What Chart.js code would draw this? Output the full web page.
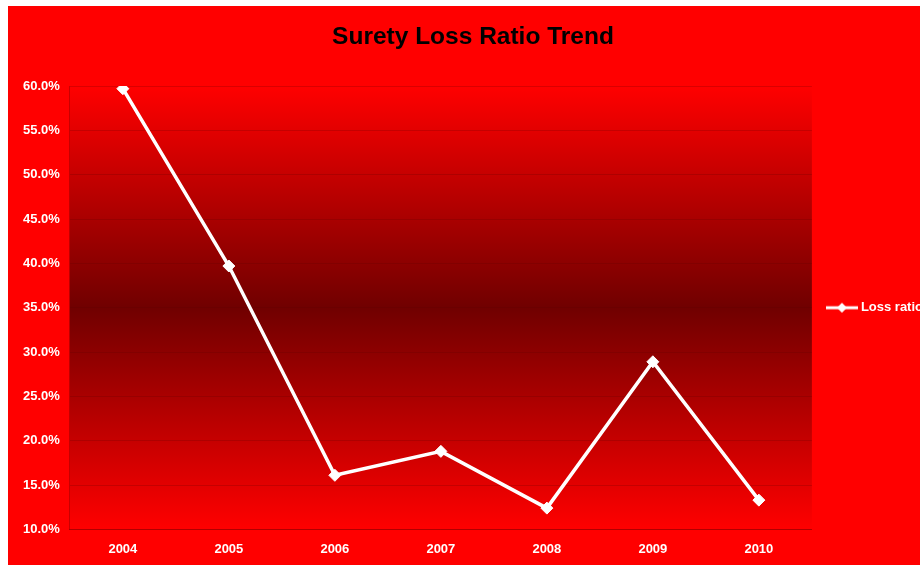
<!DOCTYPE html>
<html>
<head>
<meta charset="utf-8">
<script src="https://cdn.jsdelivr.net/npm/chart.js@4/dist/chart.umd.min.js"></script>
<style>
  html, body { margin: 0; padding: 0; background: #ffffff; overflow: hidden; width: 920px; height: 565px; }
  #wrap { position: absolute; left: 8px; top: 6px; width: 925px; height: 559px; background: #ff0000; }
</style>
</head>
<body>
<div id="wrap"><canvas id="c"></canvas></div>
<script>
const chartTitle = 'Surety Loss Ratio Trend';
const years = ['2004', '2005', '2006', '2007', '2008', '2009', '2010'];
const seriesName = 'Loss ratio';
const lossRatio = [59.7, 39.7, 16.1, 18.8, 12.4, 28.9, 13.3];
const yMin = 10, yMax = 60, yStep = 5;

// legend marker: line with diamond
const marker = document.createElement('canvas');
marker.width = 32; marker.height = 12;
(function () {
  const g = marker.getContext('2d');
  g.strokeStyle = '#ffffff'; g.lineWidth = 3;
  g.beginPath(); g.moveTo(0, 6); g.lineTo(32, 6); g.stroke();
  g.fillStyle = '#ffffff';
  g.beginPath(); g.moveTo(16, 1); g.lineTo(21, 6); g.lineTo(16, 11); g.lineTo(11, 6); g.closePath(); g.fill();
})();

const plotBg = {
  id: 'plotBg',
  beforeDraw(chart) {
    const { ctx, chartArea: a } = chart;
    const grd = ctx.createLinearGradient(0, a.top, 0, a.bottom);
    grd.addColorStop(0, '#ff0000');
    grd.addColorStop(0.5, '#700000');
    grd.addColorStop(1, '#ff0000');
    ctx.save();
    ctx.fillStyle = grd;
    ctx.fillRect(a.left, a.top, a.right - a.left, a.bottom - a.top);
    ctx.restore();
  }
};

new Chart(document.getElementById('c'), {
  type: 'line',
  data: {
    labels: years,
    datasets: [{
      label: seriesName,
      data: lossRatio,
      borderColor: '#ffffff',
      backgroundColor: '#ffffff',
      borderWidth: 3.5,
      tension: 0,
      pointStyle: 'rectRot',
      pointRadius: 6,
      pointHoverRadius: 6,
      pointBackgroundColor: '#ffffff',
      pointBorderColor: '#ffffff',
      pointBorderWidth: 1
    }]
  },
  options: {
    responsive: true,
    maintainAspectRatio: false,
    animation: false,
    devicePixelRatio: 1,
    layout: { padding: { left: 5, right: 0, top: 17, bottom: -4 } },
    plugins: {
      title: {
        display: true,
        text: chartTitle,
        color: '#000000',
        font: { family: 'Liberation Sans, Arial, sans-serif', size: 24.5, weight: 'bold' },
        padding: { top: 0, bottom: 33.6 }
      },
      legend: {
        display: true,
        position: 'right',
        fullSize: false,
        labels: {
          color: '#ffffff',
          font: { family: 'Liberation Sans, Arial, sans-serif', size: 13, weight: 'bold' },
          usePointStyle: true,
          pointStyleWidth: 25,
          boxHeight: 12,
          padding: 17.5,
          generateLabels(chart) {
            const items = Chart.defaults.plugins.legend.labels.generateLabels(chart);
            items.forEach(it => { it.pointStyle = marker; it.fontColor = '#ffffff'; });
            return items;
          }
        }
      },
      tooltip: { enabled: false }
    },
    scales: {
      x: {
        offset: true,
        grid: { display: false, drawTicks: false },
        border: { display: true, color: 'rgba(80,0,0,0.3)' },
        ticks: {
          color: '#ffffff',
          padding: 12,
          font: { family: 'Liberation Sans, Arial, sans-serif', size: 13, weight: 'bold' }
        }
      },
      y: {
        min: yMin,
        max: yMax,
        grid: { display: true, drawTicks: false, color: 'rgba(90,0,0,0.22)', lineWidth: 1 },
        border: { display: true, color: 'rgba(80,0,0,0.3)' },
        ticks: {
          stepSize: yStep,
          color: '#ffffff',
          padding: 10,
          font: { family: 'Liberation Sans, Arial, sans-serif', size: 13, weight: 'bold' },
          callback: v => v.toFixed(1) + '%'
        }
      }
    }
  },
  plugins: [plotBg]
});
</script>
</body>
</html>
